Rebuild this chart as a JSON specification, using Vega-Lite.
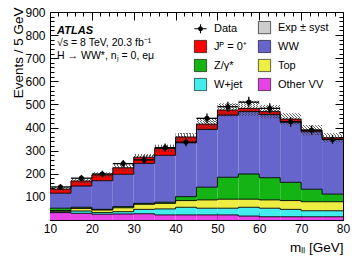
{
  "$schema": "https://vega.github.io/schema/vega-lite/v6.json",
  "width": 293,
  "height": 208,
  "autosize": {"type": "none"},
  "padding": {"left": 50, "top": 12, "right": 14, "bottom": 37},
  "config": {
    "font": "Liberation Sans",
    "view": {"stroke": "black", "strokeWidth": 1, "fill": "white"},
    "axis": {"domain": false, "grid": false, "tickColor": "black", "labelColor": "black", "titleColor": "black", "labelFont": "Liberation Sans", "titleFont": "Liberation Sans", "titleFontWeight": "normal", "tickWidth": 1}
  },
  "datasets": {
    "bins": [
      {"b": 10, "e": 15, "c": 12.5, "VV": 32, "Wjet": 4, "Top": 5, "Z": 10, "WW": 65, "Sig": 18, "sl": 124, "sh": 144, "d": 143, "dl": 131, "dh": 155},
      {"b": 15, "e": 20, "c": 17.5, "VV": 29, "Wjet": 10, "Top": 11, "Z": 5, "WW": 92, "Sig": 22, "sl": 157, "sh": 181, "d": 181, "dl": 168, "dh": 194},
      {"b": 20, "e": 25, "c": 22.5, "VV": 25, "Wjet": 7, "Top": 11, "Z": 3, "WW": 124, "Sig": 25, "sl": 183, "sh": 207, "d": 199, "dl": 185, "dh": 213},
      {"b": 25, "e": 30, "c": 27.5, "VV": 26, "Wjet": 10, "Top": 17, "Z": 5, "WW": 140, "Sig": 28, "sl": 209, "sh": 243, "d": 244, "dl": 228, "dh": 260},
      {"b": 30, "e": 35, "c": 32.5, "VV": 27, "Wjet": 19, "Top": 22, "Z": 4, "WW": 173, "Sig": 27, "sl": 258, "sh": 286, "d": 260, "dl": 244, "dh": 276},
      {"b": 35, "e": 40, "c": 37.5, "VV": 22, "Wjet": 26, "Top": 24, "Z": 5, "WW": 203, "Sig": 30, "sl": 294, "sh": 326, "d": 313, "dl": 295, "dh": 331},
      {"b": 40, "e": 45, "c": 42.5, "VV": 22, "Wjet": 33, "Top": 29, "Z": 17, "WW": 233, "Sig": 25, "sl": 342, "sh": 376, "d": 337, "dl": 319, "dh": 355},
      {"b": 45, "e": 50, "c": 47.5, "VV": 22, "Wjet": 29, "Top": 36, "Z": 55, "WW": 250, "Sig": 23, "sl": 389, "sh": 441, "d": 440, "dl": 419, "dh": 461},
      {"b": 50, "e": 55, "c": 52.5, "VV": 22, "Wjet": 29, "Top": 39, "Z": 95, "WW": 269, "Sig": 22, "sl": 447, "sh": 505, "d": 490, "dl": 468, "dh": 512},
      {"b": 55, "e": 60, "c": 57.5, "VV": 17, "Wjet": 38, "Top": 35, "Z": 109, "WW": 270, "Sig": 14, "sl": 450, "sh": 516, "d": 510, "dl": 487, "dh": 533},
      {"b": 60, "e": 65, "c": 62.5, "VV": 14, "Wjet": 37, "Top": 36, "Z": 96, "WW": 273, "Sig": 13, "sl": 440, "sh": 498, "d": 483, "dl": 461, "dh": 505},
      {"b": 65, "e": 70, "c": 67.5, "VV": 14, "Wjet": 32, "Top": 38, "Z": 79, "WW": 261, "Sig": 13, "sl": 412, "sh": 462, "d": 425, "dl": 404, "dh": 446},
      {"b": 70, "e": 75, "c": 72.5, "VV": 14, "Wjet": 26, "Top": 39, "Z": 54, "WW": 249, "Sig": 7, "sl": 367, "sh": 411, "d": 389, "dl": 369, "dh": 409},
      {"b": 75, "e": 80, "c": 77.5, "VV": 14, "Wjet": 26, "Top": 39, "Z": 33, "WW": 237, "Sig": 7, "sl": 336, "sh": 376, "d": 349, "dl": 330, "dh": 368}
    ],
    "comps": [
      {"key": "VV", "label": "Other VV", "k": 1},
      {"key": "Wjet", "label": "W+jet", "k": 2},
      {"key": "Top", "label": "Top", "k": 3},
      {"key": "Z", "label": "Z/γ*", "k": 4},
      {"key": "WW", "label": "WW", "k": 5},
      {"key": "Sig", "label": "Jᴾ = 0⁺", "k": 6}
    ],
    "txt1": [{"x": 11.7, "y": 805, "t": "ATLAS"}],
    "txt2": [
      {"x": 11.7, "y": 751, "t": "√s = 8 TeV, 20.3 fb⁻¹"},
      {"x": 11.7, "y": 697, "t": "H → WW*, nⱼ = 0, eμ"}
    ]
  },
  "layer": [
    {
      "data": {"name": "bins"},
      "transform": [
        {"fold": ["VV", "Wjet", "Top", "Z", "WW", "Sig"], "as": ["key", "v"]},
        {"lookup": "key", "from": {"data": {"name": "comps"}, "key": "key", "fields": ["label", "k"]}},
        {"stack": "v", "groupby": ["b"], "sort": [{"field": "k", "order": "ascending"}], "as": ["y0", "y1"]}
      ],
      "mark": {"type": "bar", "opacity": 1},
      "encoding": {
        "x": {"field": "b", "type": "quantitative", "scale": {"domain": [10, 80], "nice": false, "zero": false},
          "axis": {"orient": "bottom", "values": [10,12,14,16,18,20,22,24,26,28,30,32,34,36,38,40,42,44,46,48,50,52,54,56,58,60,62,64,66,68,70,72,74,76,78,80],
            "labelExpr": "datum.value % 10 === 0 ? datum.label : ''",
            "tickSize": {"condition": {"test": "datum.value % 10 === 0", "value": -8}, "value": -4},
            "labelPadding": 11, "labelFontSize": 12, "labelFlush": false, "labelOverlap": false,
            "title": "mₗₗ [GeV]", "titleX": 293, "titleY": 31, "titleAlign": "right", "titleAnchor": "end", "titleBaseline": "alphabetic", "titleFontSize": 13.5}},
        "x2": {"field": "e"},
        "y": {"field": "y0", "type": "quantitative", "scale": {"domain": [0, 900], "nice": false},
          "axis": {"orient": "left", "values": [0,20,40,60,80,100,120,140,160,180,200,220,240,260,280,300,320,340,360,380,400,420,440,460,480,500,520,540,560,580,600,620,640,660,680,700,720,740,760,780,800,820,840,860,880,900],
            "labelExpr": "datum.value % 100 === 0 && datum.value > 0 ? datum.label : ''",
            "tickSize": {"condition": {"test": "datum.value % 100 === 0", "value": -8}, "value": -4},
            "labelPadding": 13, "labelFontSize": 12, "labelFlush": false, "labelOverlap": false,
            "title": "Events / 5 GeV", "titleX": -28, "titleY": -5, "titleAngle": -90, "titleAlign": "right", "titleAnchor": "end", "titleBaseline": "alphabetic", "titleFontSize": 13.5}},
        "y2": {"field": "y1"},
        "color": {"field": "label", "type": "nominal",
          "scale": {"domain": ["Data", "Jᴾ = 0⁺", "Z/γ*", "W+jet", "Exp ± syst", "WW", "Top", "Other VV"],
                    "range": ["black", "#ff0000", "#14b414", "#42eded", "#cccccc", "#6565cc", "#eded42", "#e642e6"]},
          "legend": {"orient": "none", "legendX": 144, "legendY": 9, "columns": 2, "title": null,
            "symbolSize": 150, "symbolType": "square", "symbolOpacity": 1, "symbolStrokeColor": "black", "symbolStrokeWidth": 0.6,
            "labelFontSize": 11, "labelFont": "Liberation Sans", "labelColor": "black", "labelOffset": 7,
            "columnPadding": 10, "rowPadding": 4,
            "encode": {"symbols": {"update": {
              "shape": {"signal": "datum.value === 'Data' ? 'M-1,-0.09H1V0.09H-1Z M-0.09,-0.75H0.09V0.75H-0.09Z M-0.4,0A0.4,0.4 0 1,1 0.4,0A0.4,0.4 0 1,1 -0.4,0Z' : 'square'"},
              "stroke": {"signal": "datum.value === 'Data' ? null : 'black'"}
            }}}}
        }
      }
    },
    {
      "data": {"name": "bins"},
      "mark": {"type": "bar", "fill": {"gradient": "linear", "x1": 0, "y1": 0, "x2": 1, "y2": 1, "stops": [
        {"offset": 0, "color": "rgba(60,60,60,0.8)"}, {"offset": 0.025, "color": "rgba(60,60,60,0.8)"}, {"offset": 0.025, "color": "rgba(255,255,255,0)"}, {"offset": 0.0714, "color": "rgba(255,255,255,0)"},
        {"offset": 0.0714, "color": "rgba(60,60,60,0.8)"}, {"offset": 0.0964, "color": "rgba(60,60,60,0.8)"}, {"offset": 0.0964, "color": "rgba(255,255,255,0)"}, {"offset": 0.1429, "color": "rgba(255,255,255,0)"},
        {"offset": 0.1429, "color": "rgba(60,60,60,0.8)"}, {"offset": 0.1679, "color": "rgba(60,60,60,0.8)"}, {"offset": 0.1679, "color": "rgba(255,255,255,0)"}, {"offset": 0.2143, "color": "rgba(255,255,255,0)"},
        {"offset": 0.2143, "color": "rgba(60,60,60,0.8)"}, {"offset": 0.2393, "color": "rgba(60,60,60,0.8)"}, {"offset": 0.2393, "color": "rgba(255,255,255,0)"}, {"offset": 0.2857, "color": "rgba(255,255,255,0)"},
        {"offset": 0.2857, "color": "rgba(60,60,60,0.8)"}, {"offset": 0.3107, "color": "rgba(60,60,60,0.8)"}, {"offset": 0.3107, "color": "rgba(255,255,255,0)"}, {"offset": 0.3571, "color": "rgba(255,255,255,0)"},
        {"offset": 0.3571, "color": "rgba(60,60,60,0.8)"}, {"offset": 0.3821, "color": "rgba(60,60,60,0.8)"}, {"offset": 0.3821, "color": "rgba(255,255,255,0)"}, {"offset": 0.4286, "color": "rgba(255,255,255,0)"},
        {"offset": 0.4286, "color": "rgba(60,60,60,0.8)"}, {"offset": 0.4536, "color": "rgba(60,60,60,0.8)"}, {"offset": 0.4536, "color": "rgba(255,255,255,0)"}, {"offset": 0.5, "color": "rgba(255,255,255,0)"},
        {"offset": 0.5, "color": "rgba(60,60,60,0.8)"}, {"offset": 0.525, "color": "rgba(60,60,60,0.8)"}, {"offset": 0.525, "color": "rgba(255,255,255,0)"}, {"offset": 0.5714, "color": "rgba(255,255,255,0)"},
        {"offset": 0.5714, "color": "rgba(60,60,60,0.8)"}, {"offset": 0.5964, "color": "rgba(60,60,60,0.8)"}, {"offset": 0.5964, "color": "rgba(255,255,255,0)"}, {"offset": 0.6429, "color": "rgba(255,255,255,0)"},
        {"offset": 0.6429, "color": "rgba(60,60,60,0.8)"}, {"offset": 0.6679, "color": "rgba(60,60,60,0.8)"}, {"offset": 0.6679, "color": "rgba(255,255,255,0)"}, {"offset": 0.7143, "color": "rgba(255,255,255,0)"},
        {"offset": 0.7143, "color": "rgba(60,60,60,0.8)"}, {"offset": 0.7393, "color": "rgba(60,60,60,0.8)"}, {"offset": 0.7393, "color": "rgba(255,255,255,0)"}, {"offset": 0.7857, "color": "rgba(255,255,255,0)"},
        {"offset": 0.7857, "color": "rgba(60,60,60,0.8)"}, {"offset": 0.8107, "color": "rgba(60,60,60,0.8)"}, {"offset": 0.8107, "color": "rgba(255,255,255,0)"}, {"offset": 0.8571, "color": "rgba(255,255,255,0)"},
        {"offset": 0.8571, "color": "rgba(60,60,60,0.8)"}, {"offset": 0.8821, "color": "rgba(60,60,60,0.8)"}, {"offset": 0.8821, "color": "rgba(255,255,255,0)"}, {"offset": 0.9286, "color": "rgba(255,255,255,0)"},
        {"offset": 0.9286, "color": "rgba(60,60,60,0.8)"}, {"offset": 0.9536, "color": "rgba(60,60,60,0.8)"}, {"offset": 0.9536, "color": "rgba(255,255,255,0)"}, {"offset": 1, "color": "rgba(255,255,255,0)"}
      ]}},
      "encoding": {
        "x": {"field": "b", "type": "quantitative",
          "axis": {"orient": "top", "values": [10,12,14,16,18,20,22,24,26,28,30,32,34,36,38,40,42,44,46,48,50,52,54,56,58,60,62,64,66,68,70,72,74,76,78,80],
            "labels": false, "title": null,
            "tickSize": {"condition": {"test": "datum.value % 10 === 0", "value": -8}, "value": -4}}},
        "x2": {"field": "e"},
        "y": {"field": "sl", "type": "quantitative",
          "axis": {"orient": "right", "values": [0,20,40,60,80,100,120,140,160,180,200,220,240,260,280,300,320,340,360,380,400,420,440,460,480,500,520,540,560,580,600,620,640,660,680,700,720,740,760,780,800,820,840,860,880,900],
            "labels": false, "title": null,
            "tickSize": {"condition": {"test": "datum.value % 100 === 0", "value": -8}, "value": -4}}},
        "y2": {"field": "sh"}
      }
    },
    {
      "data": {"name": "bins"},
      "transform": [
        {"fold": ["VV", "Wjet", "Top", "Z", "WW", "Sig"], "as": ["key", "v"]},
        {"lookup": "key", "from": {"data": {"name": "comps"}, "key": "key", "fields": ["label", "k"]}},
        {"stack": "v", "groupby": ["b"], "sort": [{"field": "k", "order": "ascending"}], "as": ["y0", "y1"]}
      ],
      "mark": {"type": "rule", "color": "black", "strokeWidth": 0.9},
      "encoding": {
        "x": {"field": "b", "type": "quantitative", "axis": null},
        "x2": {"field": "e"},
        "y": {"field": "y1", "type": "quantitative", "axis": null}
      }
    },
    {
      "data": {"name": "bins"},
      "transform": [
        {"fold": ["VV", "Wjet", "Top", "Z", "WW", "Sig"], "as": ["key", "v"]},
        {"lookup": "key", "from": {"data": {"name": "comps"}, "key": "key", "fields": ["label", "k"]}},
        {"stack": "v", "groupby": ["b"], "sort": [{"field": "k", "order": "ascending"}], "as": ["y0", "y1"]},
        {"window": [{"op": "lead", "field": "y1", "as": "ny"}], "groupby": ["key"], "sort": [{"field": "b", "order": "ascending"}]},
        {"filter": "datum.ny != null"}
      ],
      "mark": {"type": "rule", "color": "black", "strokeWidth": 0.9},
      "encoding": {
        "x": {"field": "e", "type": "quantitative", "axis": null},
        "y": {"field": "y1", "type": "quantitative", "axis": null},
        "y2": {"field": "ny"}
      }
    },
    {
      "data": {"name": "bins"},
      "mark": {"type": "rule", "color": "black", "strokeWidth": 1.3},
      "encoding": {
        "x": {"field": "b", "type": "quantitative", "axis": null},
        "x2": {"field": "e"},
        "y": {"field": "d", "type": "quantitative", "axis": null}
      }
    },
    {
      "data": {"name": "bins"},
      "mark": {"type": "rule", "color": "black", "strokeWidth": 1.3},
      "encoding": {
        "x": {"field": "c", "type": "quantitative", "axis": null},
        "y": {"field": "dl", "type": "quantitative", "axis": null},
        "y2": {"field": "dh"}
      }
    },
    {
      "data": {"name": "bins"},
      "mark": {"type": "point", "filled": true, "color": "black", "size": 26, "opacity": 1},
      "encoding": {
        "x": {"field": "c", "type": "quantitative", "axis": null},
        "y": {"field": "d", "type": "quantitative", "axis": null}
      }
    },
    {
      "data": {"name": "txt1"},
      "mark": {"type": "text", "align": "left", "baseline": "alphabetic", "font": "Liberation Sans", "fontSize": 11, "fontWeight": "bold", "fontStyle": "italic", "color": "black"},
      "encoding": {
        "x": {"field": "x", "type": "quantitative", "axis": null},
        "y": {"field": "y", "type": "quantitative", "axis": null},
        "text": {"field": "t"}
      }
    },
    {
      "data": {"name": "txt2"},
      "mark": {"type": "text", "align": "left", "baseline": "alphabetic", "font": "Liberation Sans", "fontSize": 10.5, "color": "black"},
      "encoding": {
        "x": {"field": "x", "type": "quantitative", "axis": null},
        "y": {"field": "y", "type": "quantitative", "axis": null},
        "text": {"field": "t"}
      }
    }
  ],
  "resolve": {"axis": {"x": "independent", "y": "independent"}}
}
